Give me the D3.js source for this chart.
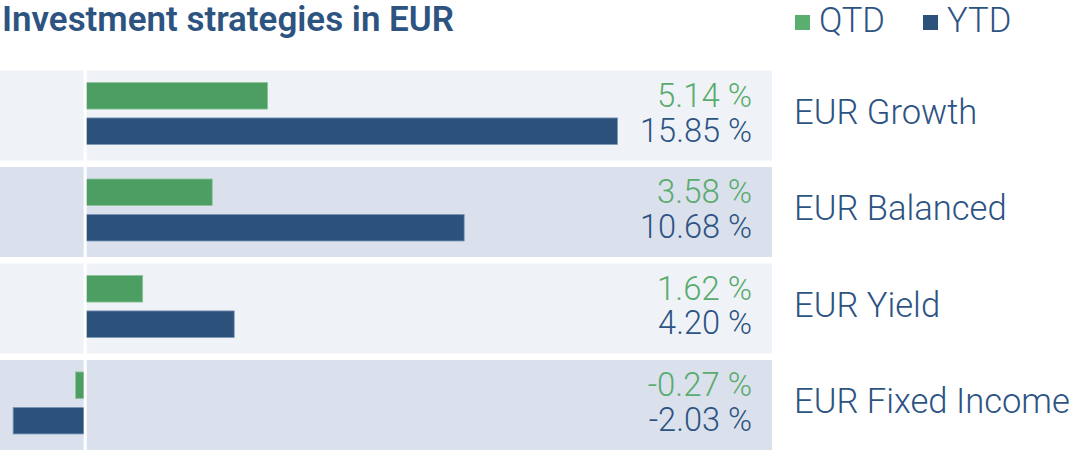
<!DOCTYPE html>
<html><head><meta charset="utf-8">
<script src="https://cdn.jsdelivr.net/npm/d3@7"></script>
<style>
html,body{margin:0;padding:0;background:#fff;}
svg{display:block;font-family:"Roboto","Open Sans",sans-serif;}
</style></head>
<body>
<script>
const title = "Investment strategies in EUR";
const categories = ["EUR Growth", "EUR Balanced", "EUR Yield", "EUR Fixed Income"];
const series = ["QTD", "YTD"];
const qtd = [5.14, 3.58, 1.62, -0.27];
const ytd = [15.85, 10.68, 4.20, -2.03];

const W = 1076, H = 459;
const green = "#4c9e63", greenText = "#5aab6e", blue = "#2c527c", blueText = "#2d5383";
const bandFill = ["#eff3f8", "#dae1ec"];

const svg = d3.select("body").append("svg").attr("width", W).attr("height", H);

const x = d3.scaleLinear().domain([-2.4, 15]).range([0, 617.5]).clamp(true);
const y = d3.scaleBand().domain(categories).range([70.5, 450]).paddingInner(0.067).paddingOuter(0);
const ys = d3.scaleBand().domain(series).range([12, 74]).paddingInner(0.25);
const color = d3.scaleOrdinal().domain(series).range([green, blue]);
const textColor = d3.scaleOrdinal().domain(series).range([greenText, blueText]);

const fmt = v => v.toFixed(2) + " %";

function fit(sel, targetW, size) {
  sel.attr("font-size", size);
  const w = sel.node().getComputedTextLength();
  const s = size * targetW / w;
  sel.attr("font-size", s);
  return s;
}

// title
const t = svg.append("text").attr("x", 2).attr("y", 31).attr("fill", "#2d5380")
  .attr("font-weight", 600).text(title);
fit(t, 452, 27);

// legend
const legendX = [795, 923];
series.forEach((s, i) => {
  svg.append("rect").attr("x", legendX[i]).attr("y", 15).attr("width", 15).attr("height", 15)
    .attr("fill", i === 0 ? "#5aae70" : blue);
});
const lq = svg.append("text").attr("x", 819).attr("y", 31.5).attr("fill", blueText)
  .attr("font-weight", 300).text(series[0]);
const legendSize = fit(lq, 66, 30);
svg.append("text").attr("x", 947).attr("y", 31.5).attr("fill", blueText)
  .attr("font-weight", 300).attr("font-size", legendSize).text(series[1]);

const rows = svg.append("g").selectAll("g").data(categories).join("g")
  .attr("transform", d => `translate(0,${y(d)})`);

rows.append("rect").attr("x", 0).attr("y", 0).attr("width", 772).attr("height", y.bandwidth())
  .attr("fill", (d, i) => bandFill[i % 2]);

const vals = categories.map((c, i) => ({c, QTD: qtd[i], YTD: ytd[i]}));

rows.each(function(c, i) {
  const g = d3.select(this);
  series.forEach(s => {
    const v = vals[i][s];
    g.append("rect")
      .attr("x", Math.min(x(0), x(v)))
      .attr("y", ys(s))
      .attr("width", Math.abs(x(v) - x(0)))
      .attr("height", ys.bandwidth())
      .attr("fill", color(s))
      .attr("stroke", s === "QTD" ? "#8cc49a" : "#7d98b8")
      .attr("stroke-width", 0.8);
  });
});

// zero line
svg.append("line").attr("x1", x(0)).attr("x2", x(0)).attr("y1", 65).attr("y2", 455)
  .attr("stroke", "#fff").attr("stroke-width", 3);

// value labels
const gTxt = rows.append("text").attr("x", 752).attr("y", 36.5).attr("text-anchor", "end")
  .attr("fill", textColor("QTD")).attr("font-weight", 300).text((d, i) => fmt(qtd[i]));
const bTxt = rows.append("text").attr("x", 752).attr("y", 71).attr("text-anchor", "end")
  .attr("fill", textColor("YTD")).attr("font-weight", 300).text((d, i) => fmt(ytd[i]));
const gs = fit(d3.select(gTxt.nodes()[0]), 95, 28);
gTxt.attr("font-size", gs);
const bs = fit(d3.select(bTxt.nodes()[0]), 112, 31);
bTxt.attr("font-size", bs);

// category labels (size fitted on the longest label)
const cl = rows.append("text").attr("x", 794).attr("y", 53.5).attr("fill", blueText)
  .attr("font-weight", 300).text(d => d);
const cs = fit(d3.select(cl.nodes()[3]), 276, 31);
cl.attr("font-size", cs);
</script>
</body></html>
